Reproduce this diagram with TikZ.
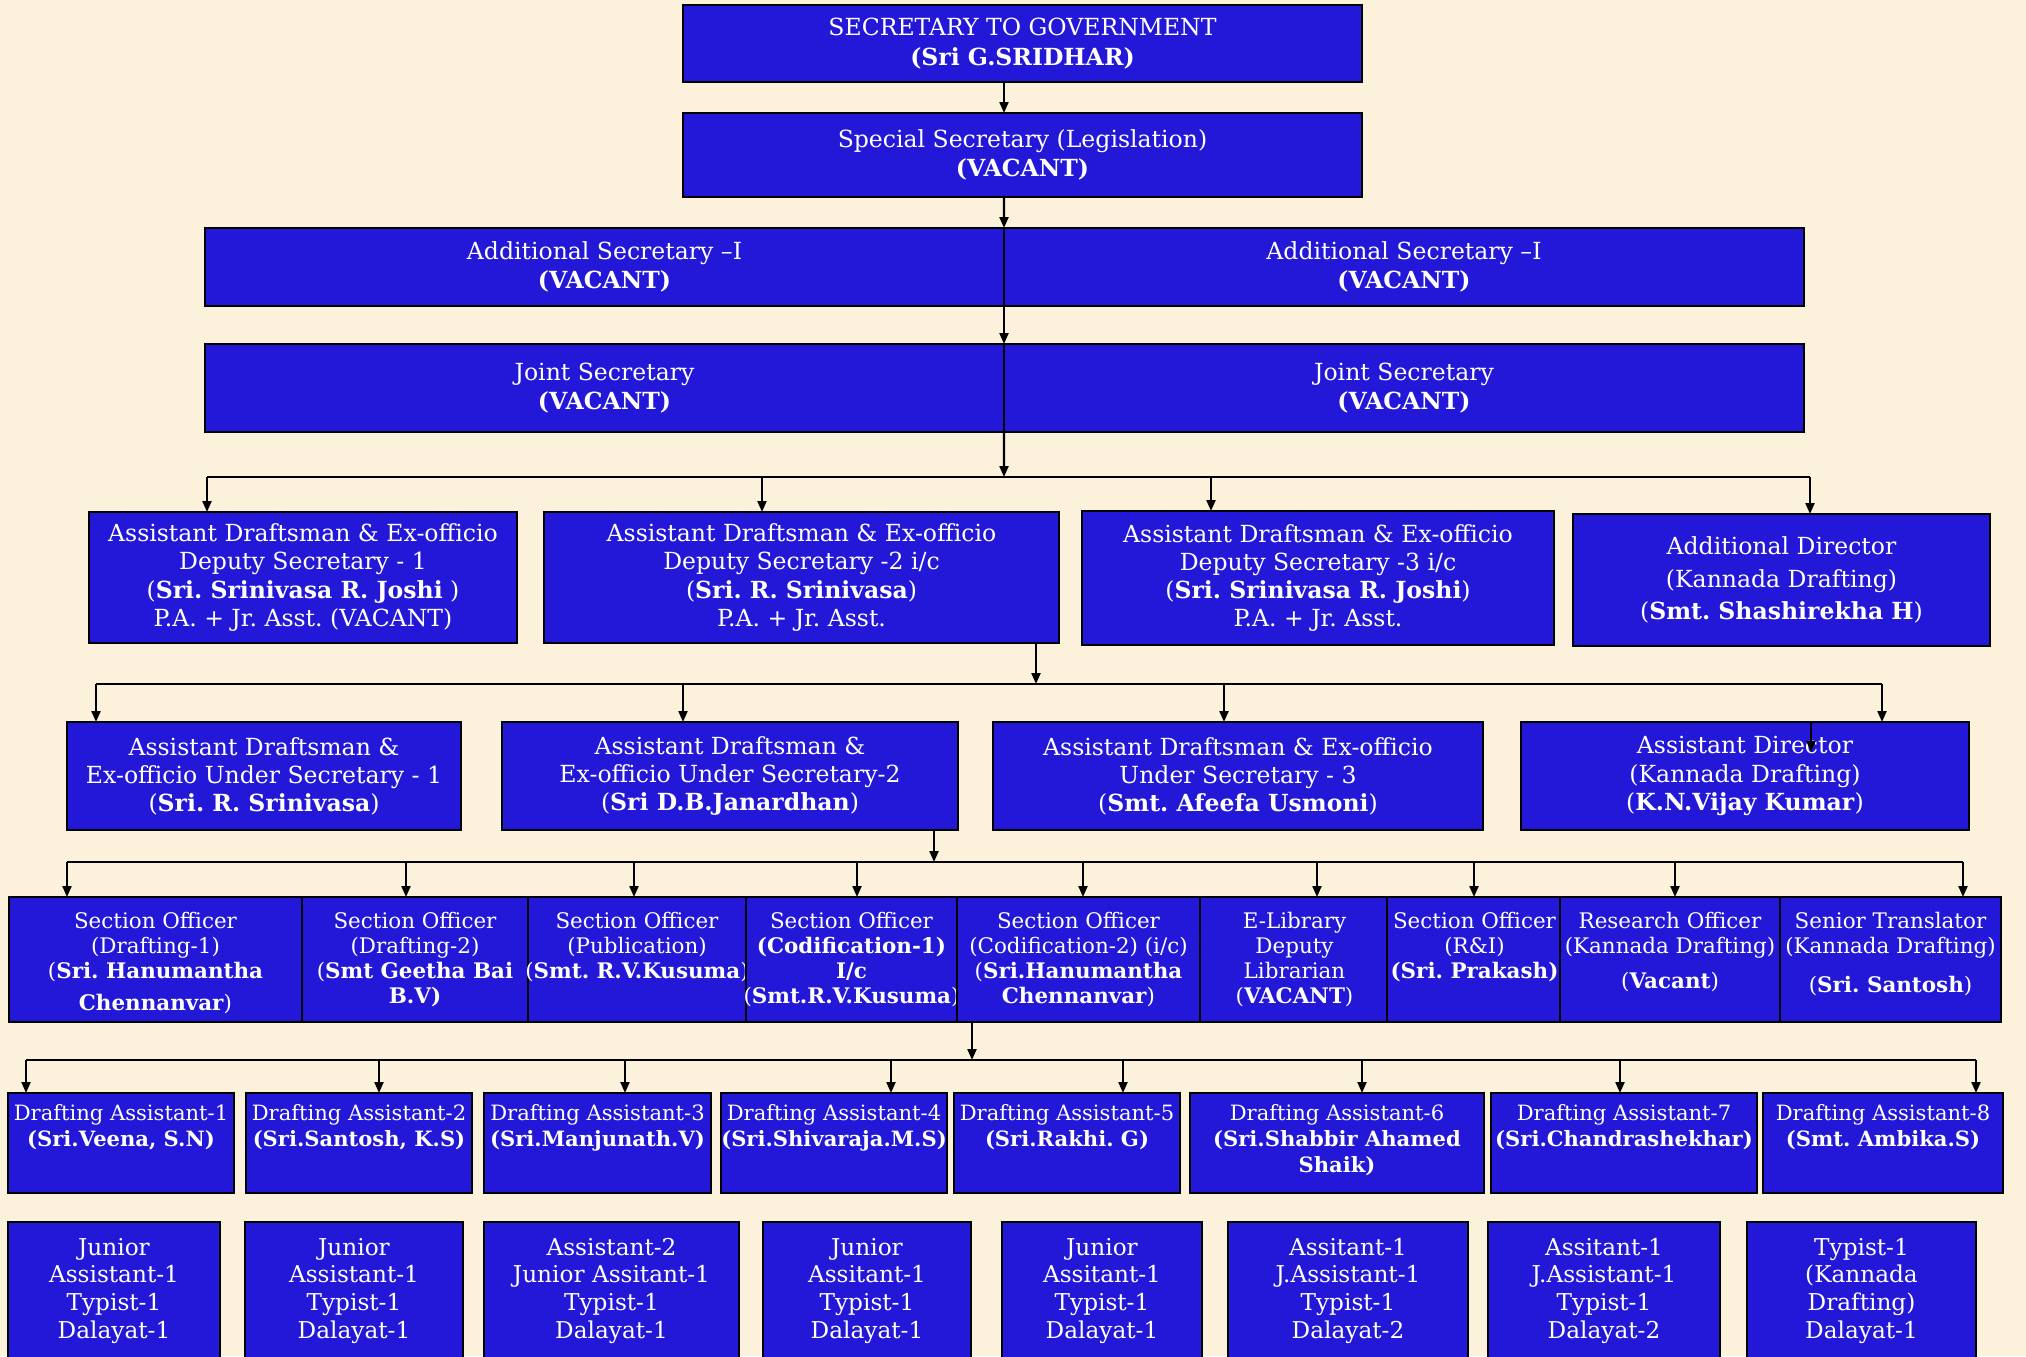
\documentclass[tikz,border=0pt]{standalone}
\usepackage{fontspec}
\setmainfont{DejaVu Serif}
\usetikzlibrary{arrows.meta, positioning}
\frenchspacing

\definecolor{paper}{RGB}{252,241,218}
\definecolor{boxblue}{RGB}{35,24,216}

% lines hung from the top of a box
\newcommand{\boxlines}[1]{\begin{tabular}[t]{@{}c@{}}#1\end{tabular}}

\begin{document}
\begin{tikzpicture}[
    x=1mm, y=-1mm,
    box/.style={draw=black, line width=0.6pt, fill=boxblue, text=white,
        inner xsep=1pt, inner ysep=2.5pt, outer sep=0pt},
    headbox/.style={box, align=center, font=\fontsize{6.7}{8.4}\selectfont},
    midbox/.style={box, align=center, font=\fontsize{6.7}{8}\selectfont},
    toptext/.style={box, anchor=north},
    sobox/.style={toptext, inner ysep=3.9pt, text depth=22.8pt, font=\fontsize{6.1}{7.1}\selectfont},
    dabox/.style={toptext, inner ysep=2.85pt, text depth=17.6pt, font=\fontsize{6}{7.3}\selectfont},
    stbox/.style={toptext, inner ysep=3.9pt, text depth=26.4pt, font=\fontsize{6.6}{7.9}\selectfont},
    arrow/.style={-{Triangle[length=1.1mm, width=0.9mm]}, line width=0.6pt}
]
\useasboundingbox (0,0) rectangle (202.6,135.6);
\fill[paper] (0,0) rectangle (202.6,135.6);

% Row 1 and 2
\node (sec) [headbox, minimum width=67.9mm, minimum height=7.7mm] at (102.25,4.35)
    {SECRETARY TO GOVERNMENT\\ \textbf{(Sri G.SRIDHAR)}};
\node (spl) [headbox, minimum width=67.9mm, minimum height=8.4mm] at (102.25,15.5)
    {Special Secretary (Legislation)\\ \textbf{(VACANT)}};

% Row 3
\node (add1) [headbox, minimum width=79.9mm, minimum height=7.8mm] at (60.45,26.7)
    {Additional Secretary –I\\ \textbf{(VACANT)}};
\node (add2) [headbox, minimum width=80mm, minimum height=7.8mm, right=0pt of add1]
    {Additional Secretary –I\\ \textbf{(VACANT)}};

% Row 4
\node (js1) [headbox, minimum width=79.9mm, minimum height=8.8mm] at (60.45,38.8)
    {Joint Secretary\\ \textbf{(VACANT)}};
\node (js2) [headbox, minimum width=80mm, minimum height=8.8mm, right=0pt of js1]
    {Joint Secretary\\ \textbf{(VACANT)}};

\coordinate (spine) at (100.4,47.7);
\draw[arrow] (sec.south -| spine) -- (spl.north -| spine);
\draw[arrow] (spl.south -| spine) -- (add1.north east);
\draw[arrow] (add1.south east) -- (js1.north east);
\draw[arrow] (js1.south east) -- (spine);

% Row 5
\node (ad1) [midbox, minimum width=42.8mm, minimum height=13.1mm] at (30.3,57.75)
    {Assistant Draftsman \& Ex-officio\\ Deputy Secretary - 1\\ (\textbf{Sri. Srinivasa R. Joshi} )\\ P.A. + Jr. Asst. (VACANT)};
\node (ad2) [midbox, minimum width=51.5mm, minimum height=13.1mm] at (80.15,57.75)
    {Assistant Draftsman \& Ex-officio\\ Deputy Secretary -2 i/c\\ (\textbf{Sri. R. Srinivasa})\\ P.A. + Jr. Asst.};
\node (ad3) [midbox, minimum width=47.2mm, minimum height=13.4mm] at (131.8,57.8)
    {Assistant Draftsman \& Ex-officio\\ Deputy Secretary -3 i/c\\ (\textbf{Sri. Srinivasa R. Joshi})\\ P.A. + Jr. Asst.};
\node (ad4) [midbox, minimum width=41.7mm, minimum height=13.2mm, font=\fontsize{6.7}{9.2}\selectfont] at (178.15,58)
    {Additional Director\\ (Kannada Drafting)\\ (\textbf{Smt. Shashirekha H})};

\coordinate (h5a) at (20.7,47.7);
\coordinate (h5b) at (76.2,47.7);
\coordinate (h5c) at (121.1,47.7);
\coordinate (h5d) at (181,47.7);
\draw[line width=0.6pt] (h5a) -- (h5d);
\draw[arrow] (h5a) -- (h5a |- ad1.north);
\draw[arrow] (h5b) -- (h5b |- ad2.north);
\draw[arrow] (h5c) -- (h5c |- ad3.north);
\draw[arrow] (h5d) -- (h5d |- ad4.north);

% Row 6
\node (us1) [midbox, minimum width=39.4mm, minimum height=10.8mm] at (26.4,77.6)
    {Assistant Draftsman \&\\ Ex-officio Under Secretary - 1\\ (\textbf{Sri. R. Srinivasa})};
\node (us2) [midbox, minimum width=45.6mm, minimum height=10.8mm] at (73,77.6)
    {Assistant Draftsman \&\\ Ex-officio Under Secretary-2\\ (\textbf{Sri D.B.Janardhan})};
\node (us3) [midbox, minimum width=49mm, minimum height=10.8mm] at (123.8,77.6)
    {Assistant Draftsman \& Ex-officio\\ Under Secretary - 3\\ (\textbf{Smt. Afeefa Usmoni})};
\node (us4) [midbox, minimum width=44.8mm, minimum height=10.8mm] at (174.5,77.6)
    {Assistant Director\\ (Kannada Drafting)\\ (\textbf{K.N.Vijay Kumar})};

\coordinate (hub6) at (103.6,68.4);
\coordinate (h6a) at (9.6,68.4);
\coordinate (h6b) at (68.3,68.4);
\coordinate (h6c) at (122.4,68.4);
\coordinate (h6d) at (188.2,68.4);
\coordinate (kd) at (181.1,75.2);
\draw[arrow] (ad2.south -| hub6) -- (hub6);
\draw[line width=0.6pt] (h6a) -- (h6d);
\draw[arrow] (h6a) -- (h6a |- us1.north);
\draw[arrow] (h6b) -- (h6b |- us2.north);
\draw[arrow] (h6c) -- (h6c |- us3.north);
\draw[arrow] (h6d) -- (h6d |- us4.north);
\draw[arrow] (kd |- us4.north) -- (kd);

% Row 7
\node (so1) [sobox, minimum width=29.3mm] at (15.55,89.7)
    {\boxlines{Section Officer\\ (Drafting-1)\\ (\textbf{Sri. Hanumantha}\\[2pt] \textbf{Chennanvar})}};
\node (so2) [sobox, minimum width=22.6mm] at (41.5,89.7)
    {\boxlines{Section Officer\\ (Drafting-2)\\ (\textbf{Smt Geetha Bai}\\ \textbf{B.V)}}};
\node (so3) [sobox, minimum width=21.8mm] at (63.7,89.7)
    {\boxlines{Section Officer\\ (Publication)\\ \makebox[0pt]{(\textbf{Smt. R.V.Kusuma})}}};
\node (so4) [sobox, minimum width=21.1mm] at (85.15,89.7)
    {\boxlines{Section Officer\\ \textbf{(Codification-1)}\\ \textbf{I/c}\\ \makebox[0pt]{(\textbf{Smt.R.V.Kusuma})}}};
\node (so5) [sobox, minimum width=24.3mm] at (107.85,89.7)
    {\boxlines{Section Officer\\ (Codification-2) (i/c)\\ (\textbf{Sri.Hanumantha}\\ \textbf{Chennanvar})}};
\node (so6) [sobox, minimum width=18.9mm] at (129.45,89.7)
    {\boxlines{E-Library\\ Deputy\\ Librarian\\ (\textbf{VACANT})}};
\node (so7) [sobox, minimum width=17.1mm] at (147.45,89.7)
    {\boxlines{Section Officer\\ (R\&I)\\ \textbf{(Sri. Prakash)}}};
\node (so8) [sobox, minimum width=22mm] at (167,89.7)
    {\boxlines{Research Officer\\ (Kannada Drafting)\\[3pt] (\textbf{Vacant})}};
\node (so9) [sobox, minimum width=22.1mm] at (189.05,89.7)
    {\boxlines{Senior Translator\\ (Kannada Drafting)\\[4pt] (\textbf{Sri. Santosh})}};

\coordinate (hub7) at (93.4,86.2);
\coordinate (h7a) at (6.7,86.2);
\coordinate (h7b) at (40.6,86.2);
\coordinate (h7c) at (63.4,86.2);
\coordinate (h7d) at (85.7,86.2);
\coordinate (h7e) at (108.3,86.2);
\coordinate (h7f) at (131.7,86.2);
\coordinate (h7g) at (147.4,86.2);
\coordinate (h7h) at (167.5,86.2);
\coordinate (h7i) at (196.3,86.2);
\draw[arrow] (us2.south -| hub7) -- (hub7);
\draw[line width=0.6pt] (h7a) -- (h7i);
\draw[arrow] (h7a) -- (h7a |- so1.north);
\draw[arrow] (h7b) -- (h7b |- so2.north);
\draw[arrow] (h7c) -- (h7c |- so3.north);
\draw[arrow] (h7d) -- (h7d |- so4.north);
\draw[arrow] (h7e) -- (h7e |- so5.north);
\draw[arrow] (h7f) -- (h7f |- so6.north);
\draw[arrow] (h7g) -- (h7g |- so7.north);
\draw[arrow] (h7h) -- (h7h |- so8.north);
\draw[arrow] (h7i) -- (h7i |- so9.north);

% Row 8
\node (da1) [dabox, minimum width=22.6mm] at (12.1,109.3)
    {\boxlines{Drafting Assistant-1\\ \textbf{(Sri.Veena, S.N)}}};
\node (da2) [dabox, minimum width=22.6mm] at (35.9,109.3)
    {\boxlines{Drafting Assistant-2\\ \textbf{(Sri.Santosh, K.S)}}};
\node (da3) [dabox, minimum width=22.7mm] at (59.75,109.3)
    {\boxlines{Drafting Assistant-3\\ \textbf{(Sri.Manjunath.V)}}};
\node (da4) [dabox, minimum width=22.6mm] at (83.4,109.3)
    {\boxlines{Drafting Assistant-4\\ \makebox[0pt]{\textbf{(Sri.Shivaraja.M.S)}}}};
\node (da5) [dabox, minimum width=22.6mm] at (106.7,109.3)
    {\boxlines{Drafting Assistant-5\\ \textbf{(Sri.Rakhi. G)}}};
\node (da6) [dabox, minimum width=29.4mm] at (133.7,109.3)
    {\boxlines{Drafting Assistant-6\\ \textbf{(Sri.Shabbir Ahamed}\\ \textbf{Shaik)}}};
\node (da7) [dabox, minimum width=26.6mm] at (162.4,109.3)
    {\boxlines{Drafting Assistant-7\\ \makebox[0pt]{\textbf{(Sri.Chandrashekhar)}}}};
\node (da8) [dabox, minimum width=24mm] at (188.3,109.3)
    {\boxlines{Drafting Assistant-8\\ \textbf{(Smt. Ambika.S)}}};

\coordinate (hub8) at (97.2,106);
\coordinate (h8a) at (2.6,106);
\coordinate (h8b) at (37.9,106);
\coordinate (h8c) at (62.5,106);
\coordinate (h8d) at (89.1,106);
\coordinate (h8e) at (112.3,106);
\coordinate (h8f) at (136.2,106);
\coordinate (h8g) at (162,106);
\coordinate (h8h) at (197.6,106);
\draw[arrow] (so5.south -| hub8) -- (hub8);
\draw[line width=0.6pt] (h8a) -- (h8h);
\draw[arrow] (h8a) -- (h8a |- da1.north);
\draw[arrow] (h8b) -- (h8b |- da2.north);
\draw[arrow] (h8c) -- (h8c |- da3.north);
\draw[arrow] (h8d) -- (h8d |- da4.north);
\draw[arrow] (h8e) -- (h8e |- da5.north);
\draw[arrow] (h8f) -- (h8f |- da6.north);
\draw[arrow] (h8g) -- (h8g |- da7.north);
\draw[arrow] (h8h) -- (h8h |- da8.north);

% Row 9
\node (st1) [stbox, minimum width=21.2mm] at (11.4,122.2)
    {\boxlines{Junior\\ Assistant-1\\ Typist-1\\ Dalayat-1}};
\node (st2) [stbox, minimum width=21.8mm] at (35.4,122.2)
    {\boxlines{Junior\\ Assistant-1\\ Typist-1\\ Dalayat-1}};
\node (st3) [stbox, minimum width=25.5mm] at (61.15,122.2)
    {\boxlines{Assistant-2\\ Junior Assitant-1\\ Typist-1\\ Dalayat-1}};
\node (st4) [stbox, minimum width=20.8mm] at (86.7,122.2)
    {\boxlines{Junior\\ Assitant-1\\ Typist-1\\ Dalayat-1}};
\node (st5) [stbox, minimum width=20mm] at (110.2,122.2)
    {\boxlines{Junior\\ Assitant-1\\ Typist-1\\ Dalayat-1}};
\node (st6) [stbox, minimum width=24mm] at (134.8,122.2)
    {\boxlines{Assitant-1\\ J.Assistant-1\\ Typist-1\\ Dalayat-2}};
\node (st7) [stbox, minimum width=23.2mm] at (160.4,122.2)
    {\boxlines{Assitant-1\\ J.Assistant-1\\ Typist-1\\ Dalayat-2}};
\node (st8) [stbox, minimum width=22.9mm] at (186.15,122.2)
    {\boxlines{Typist-1\\ (Kannada\\ Drafting)\\ Dalayat-1}};

\end{tikzpicture}
\end{document}
